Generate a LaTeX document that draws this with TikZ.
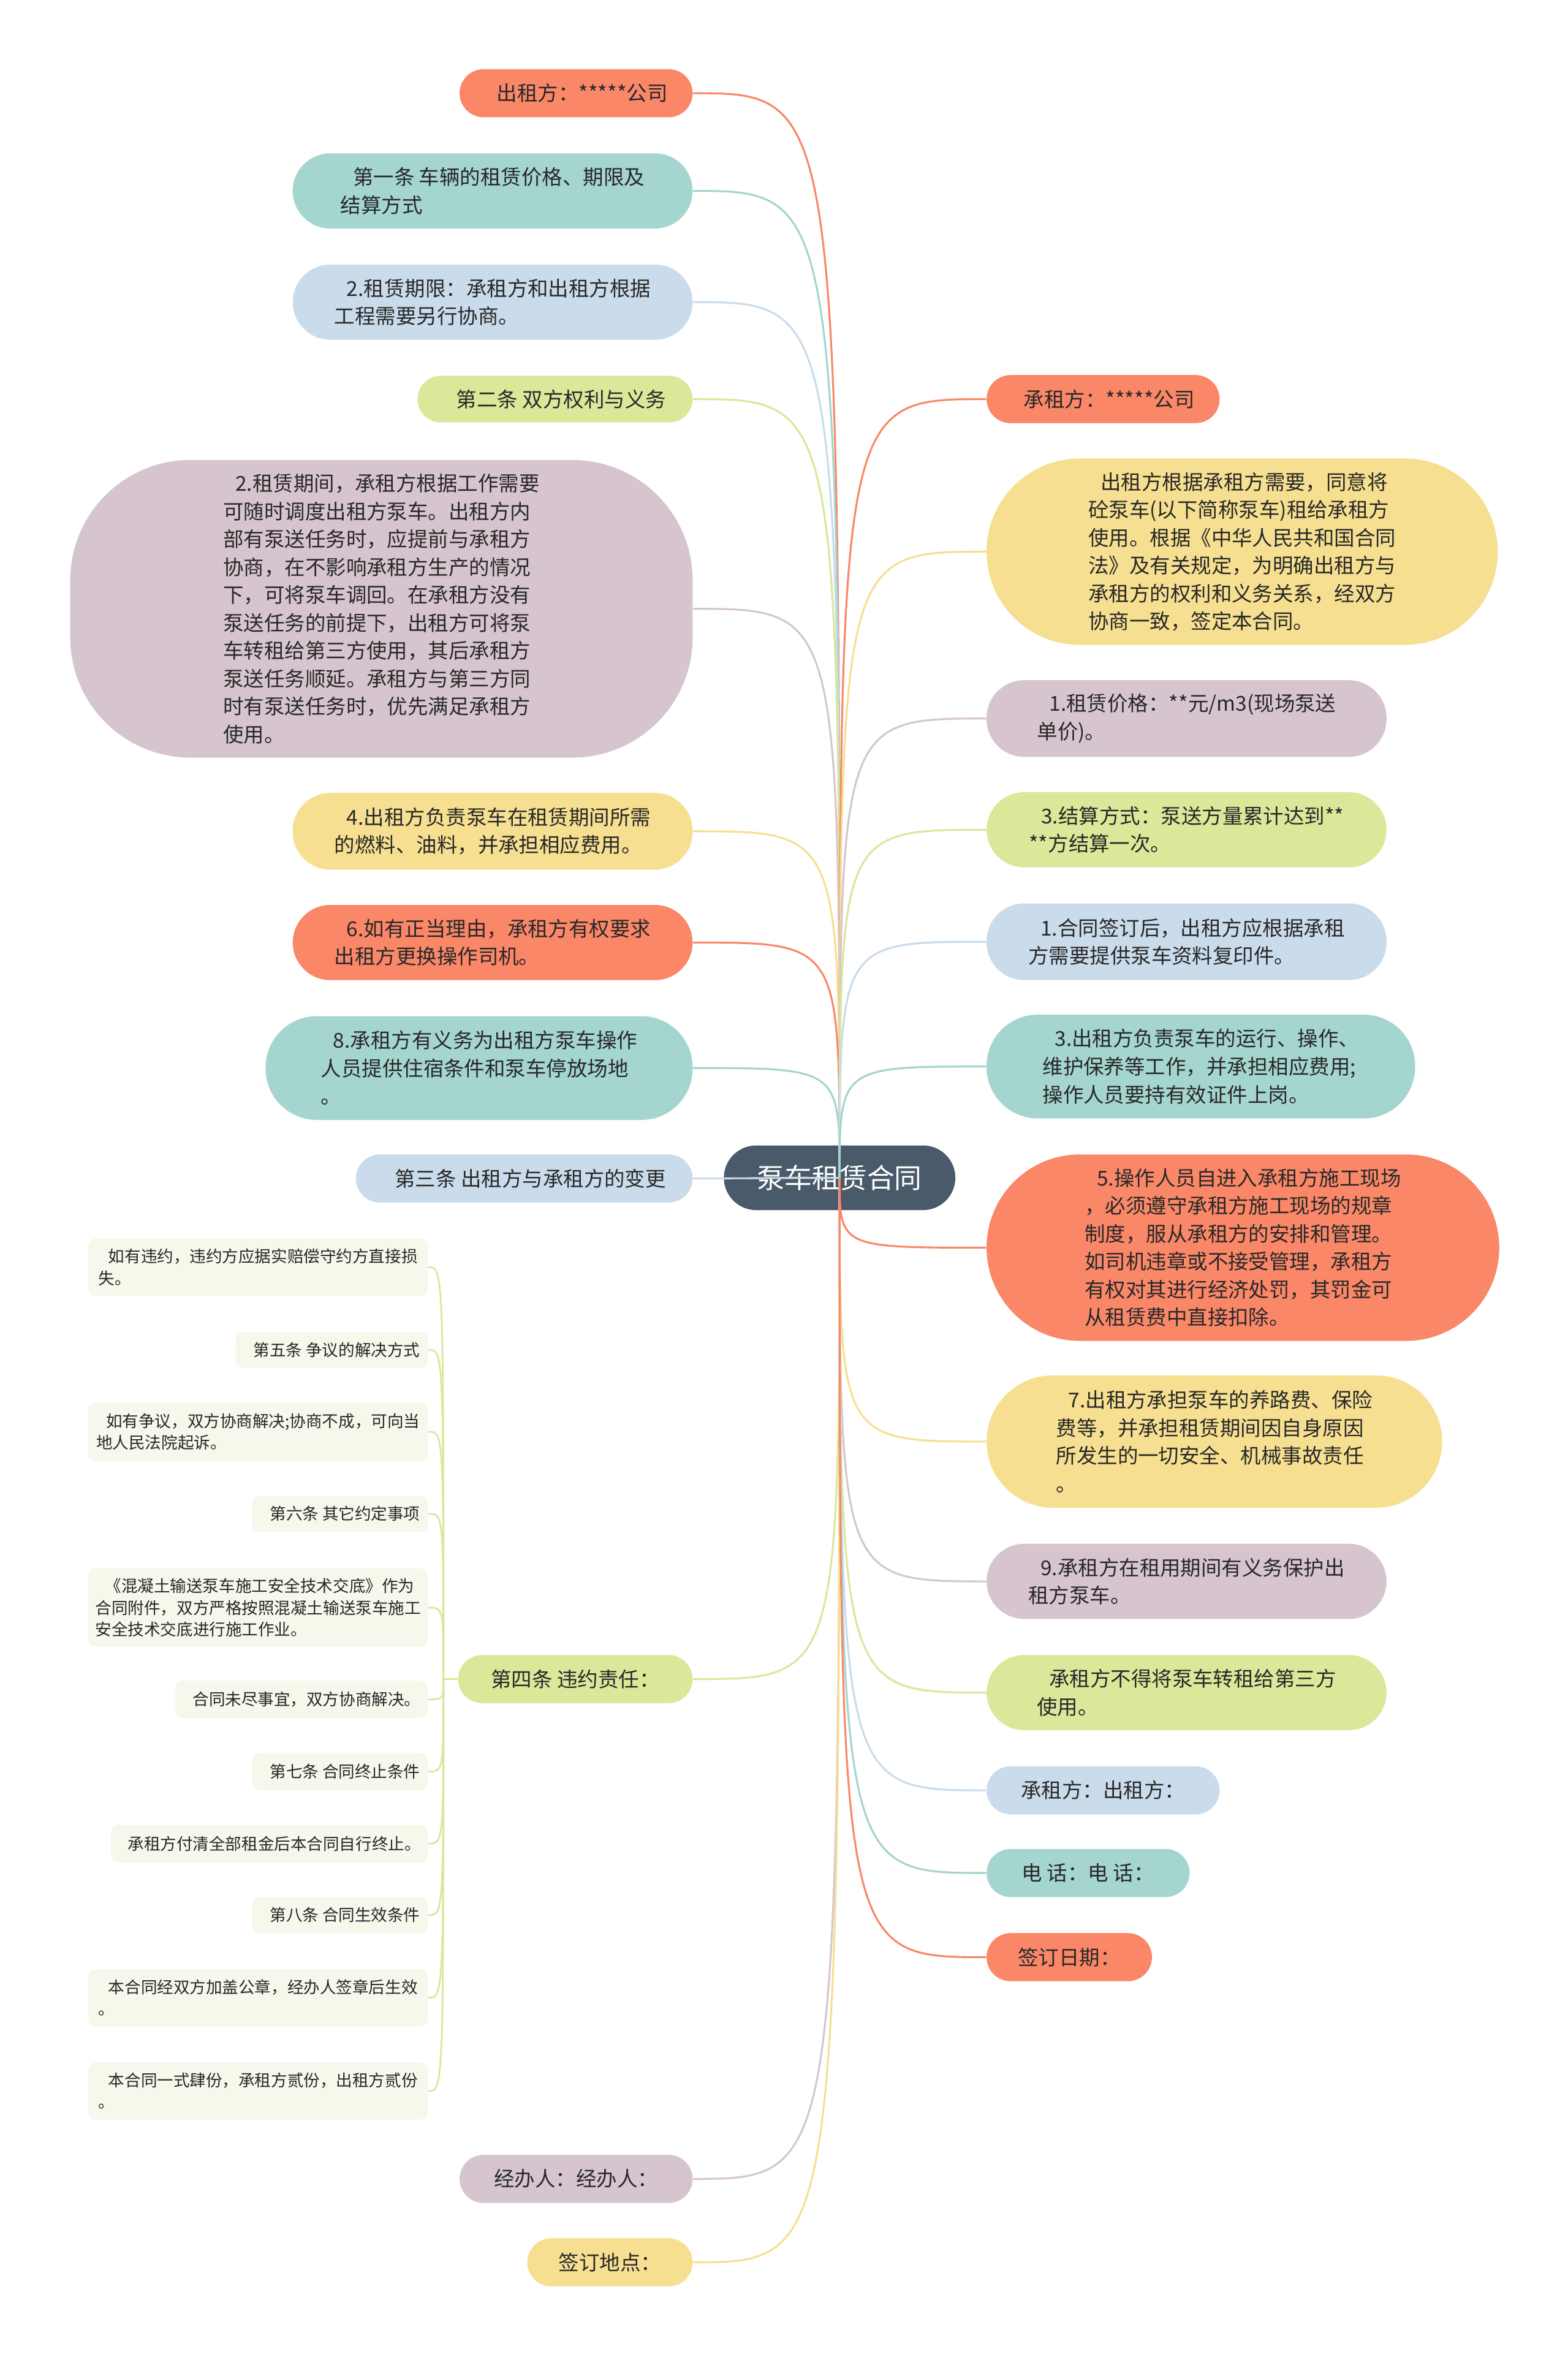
\documentclass[tikz,border=0pt]{standalone}
\usepackage{fontspec}
\setmainfont{Noto Sans CJK SC}
\definecolor{cOrange}{RGB}{249,135,104}
\definecolor{cTeal}{RGB}{164,213,206}
\definecolor{cBlue}{RGB}{202,219,235}
\definecolor{cGreen}{RGB}{217,232,153}
\definecolor{cYellow}{RGB}{246,223,144}
\definecolor{cMauve}{RGB}{214,197,206}
\definecolor{cRoot}{RGB}{74,90,106}
\definecolor{leafbg}{RGB}{245,248,235}
\definecolor{txtgray}{RGB}{40,40,40}
\newcommand{\firstgap}{\hspace*{0.6em}}

\begin{document}
\begin{tikzpicture}[
    x=0.025cm, y=-0.025cm,
    dims/.style n args={3}{minimum width=#1*0.025cm,minimum height=#2*0.025cm,
                           rounded corners=#3*0.025cm},
    lsize/.style 2 args={minimum width=#1*0.025cm,minimum height=#2*0.025cm},
    topic/.style={fill=#1,text=txtgray,align=left,inner sep=2pt,
                  font=\fontsize{9.7}{13.2}\selectfont},
    leaf/.style={fill=leafbg,text=txtgray,align=left,inner sep=2pt,
                 rounded corners=0.125cm,font=\fontsize{7.7}{10.3}\selectfont},
    root/.style={fill=cRoot,text=white,align=center,inner sep=2pt,
                 font=\fontsize{13}{15}\selectfont},
    link/.style={draw=#1,line width=0.9pt},
    sublink/.style={draw=cGreen,line width=0.8pt}
  ]
  \fill[white] (0,0) rectangle (1043,1568);

  \node[root,dims={154}{43}{21.5}] (root) at (558.5,783.5) {泵车租赁合同};

  % left branches
  \node[topic=cOrange,dims={155}{32}{16},anchor=east] (l1) at (461,62) {\firstgap 出租方：*****公司};
  \node[topic=cTeal,dims={266}{50}{25},anchor=east] (l2) at (461,127) {\firstgap 第一条 车辆的租赁价格、期限及\\结算方式};
  \node[topic=cBlue,dims={266}{50}{25},anchor=east] (l3) at (461,201) {\firstgap 2.租赁期限：承租方和出租方根据\\工程需要另行协商。};
  \node[topic=cGreen,dims={183}{31}{15.5},anchor=east] (l4) at (461,265.5) {\firstgap 第二条 双方权利与义务};
  \node[topic=cMauve,dims={414}{198}{80},anchor=east] (l5) at (461,405) {\firstgap 2.租赁期间，承租方根据工作需要\\可随时调度出租方泵车。出租方内\\部有泵送任务时，应提前与承租方\\协商，在不影响承租方生产的情况\\下，可将泵车调回。在承租方没有\\泵送任务的前提下，出租方可将泵\\车转租给第三方使用，其后承租方\\泵送任务顺延。承租方与第三方同\\时有泵送任务时，优先满足承租方\\使用。};
  \node[topic=cYellow,dims={266}{51}{25},anchor=east] (l6) at (461,553) {\firstgap 4.出租方负责泵车在租赁期间所需\\的燃料、油料，并承担相应费用。};
  \node[topic=cOrange,dims={266}{50}{25},anchor=east] (l7) at (461,627) {\firstgap 6.如有正当理由，承租方有权要求\\出租方更换操作司机。};
  \node[topic=cTeal,dims={284}{69}{34},anchor=east] (l8) at (461,710.5) {\firstgap 8.承租方有义务为出租方泵车操作\\人员提供住宿条件和泵车停放场地\\。};
  \node[topic=cBlue,dims={224}{32}{16},anchor=east] (l9) at (461,784) {\firstgap 第三条 出租方与承租方的变更};
  \node[topic=cGreen,dims={156}{32}{16},anchor=east] (l10) at (461,1117) {第四条 违约责任：};
  \node[topic=cMauve,dims={155}{32}{16},anchor=east] (l11) at (461,1449.5) {经办人：经办人：};
  \node[topic=cYellow,dims={110}{32}{16},anchor=east] (l12) at (461,1505) {签订地点：};

  % right branches
  \node[topic=cOrange,dims={155}{32}{16},anchor=west] (r1) at (656,265.5) {\firstgap 承租方：*****公司};
  \node[topic=cYellow,dims={340}{124}{62},anchor=west] (r2) at (656,367) {\firstgap 出租方根据承租方需要，同意将\\砼泵车(以下简称泵车)租给承租方\\使用。根据《中华人民共和国合同\\法》及有关规定，为明确出租方与\\承租方的权利和义务关系，经双方\\协商一致，签定本合同。};
  \node[topic=cMauve,dims={266}{51}{25},anchor=west] (r3) at (656,478) {\firstgap 1.租赁价格：**元/m3(现场泵送\\单价)。};
  \node[topic=cGreen,dims={266}{50}{25},anchor=west] (r4) at (656,552) {\firstgap 3.结算方式：泵送方量累计达到**\\**方结算一次。};
  \node[topic=cBlue,dims={266}{51}{25},anchor=west] (r5) at (656,626.5) {\firstgap 1.合同签订后，出租方应根据承租\\方需要提供泵车资料复印件。};
  \node[topic=cTeal,dims={285}{69}{34},anchor=west] (r6) at (656,709.5) {\firstgap 3.出租方负责泵车的运行、操作、\\维护保养等工作，并承担相应费用;\\操作人员要持有效证件上岗。};
  \node[topic=cOrange,dims={341}{124}{62},anchor=west] (r7) at (656,830) {\firstgap 5.操作人员自进入承租方施工现场\\，必须遵守承租方施工现场的规章\\制度，服从承租方的安排和管理。\\如司机违章或不接受管理，承租方\\有权对其进行经济处罚，其罚金可\\从租赁费中直接扣除。};
  \node[topic=cYellow,dims={303}{88}{44},anchor=west] (r8) at (656,959) {\firstgap 7.出租方承担泵车的养路费、保险\\费等，并承担租赁期间因自身原因\\所发生的一切安全、机械事故责任\\。};
  \node[topic=cMauve,dims={266}{50}{25},anchor=west] (r9) at (656,1052) {\firstgap 9.承租方在租用期间有义务保护出\\租方泵车。};
  \node[topic=cGreen,dims={266}{50}{25},anchor=west] (r10) at (656,1126) {\firstgap 承租方不得将泵车转租给第三方\\使用。};
  \node[topic=cBlue,dims={155}{32}{16},anchor=west] (r11) at (656,1191) {承租方：出租方：};
  \node[topic=cTeal,dims={135}{32}{16},anchor=west] (r12) at (656,1246) {电 话：电 话：};
  \node[topic=cOrange,dims={110}{32}{16},anchor=west] (r13) at (656,1302) {签订日期：};

  % clauses under 第四条
  \coordinate (hub) at (295,1117);
  \node[leaf,lsize={226}{38},anchor=east] (c1) at (285,843) {\firstgap 如有违约，违约方应据实赔偿守约方直接损\\失。};
  \node[leaf,lsize={128}{24},anchor=east] (c2) at (285,898) {\firstgap 第五条 争议的解决方式};
  \node[leaf,lsize={226}{39},anchor=east] (c3) at (285,952.5) {\firstgap 如有争议，双方协商解决;协商不成，可向当\\地人民法院起诉。};
  \node[leaf,lsize={117}{24},anchor=east] (c4) at (285,1007) {\firstgap 第六条 其它约定事项};
  \node[leaf,lsize={226}{52},anchor=east] (c5) at (285,1069.5) {\firstgap《混凝土输送泵车施工安全技术交底》作为\\合同附件，双方严格按照混凝土输送泵车施工\\安全技术交底进行施工作业。};
  \node[leaf,lsize={168}{25},anchor=east] (c6) at (285,1130.5) {\firstgap 合同未尽事宜，双方协商解决。};
  \node[leaf,lsize={117}{25},anchor=east] (c7) at (285,1178.5) {\firstgap 第七条 合同终止条件};
  \node[leaf,lsize={211}{25},anchor=east] (c8) at (285,1226.5) {\firstgap 承租方付清全部租金后本合同自行终止。};
  \node[leaf,lsize={117}{24},anchor=east] (c9) at (285,1274) {\firstgap 第八条 合同生效条件};
  \node[leaf,lsize={226}{38},anchor=east] (c10) at (285,1329) {\firstgap 本合同经双方加盖公章，经办人签章后生效\\。};
  \node[leaf,lsize={226}{38},anchor=east] (c11) at (285,1391) {\firstgap 本合同一式肆份，承租方贰份，出租方贰份\\。};

  \draw[link=cOrange] (root.center) .. controls (root.center |- l1.east) .. (l1.east);
  \draw[link=cTeal] (root.center) .. controls (root.center |- l2.east) .. (l2.east);
  \draw[link=cBlue] (root.center) .. controls (root.center |- l3.east) .. (l3.east);
  \draw[link=cGreen] (root.center) .. controls (root.center |- l4.east) .. (l4.east);
  \draw[link=cMauve] (root.center) .. controls (root.center |- l5.east) .. (l5.east);
  \draw[link=cYellow] (root.center) .. controls (root.center |- l6.east) .. (l6.east);
  \draw[link=cOrange] (root.center) .. controls (root.center |- l7.east) .. (l7.east);
  \draw[link=cTeal] (root.center) .. controls (root.center |- l8.east) .. (l8.east);
  \draw[link=cBlue] (root.center) -- (l9.east);
  \draw[link=cGreen] (root.center) .. controls (root.center |- l10.east) .. (l10.east);
  \draw[link=cMauve] (root.center) .. controls (root.center |- l11.east) .. (l11.east);
  \draw[link=cYellow] (root.center) .. controls (root.center |- l12.east) .. (l12.east);

  \draw[link=cOrange] (root.center) .. controls (root.center |- r1.west) .. (r1.west);
  \draw[link=cYellow] (root.center) .. controls (root.center |- r2.west) .. (r2.west);
  \draw[link=cMauve] (root.center) .. controls (root.center |- r3.west) .. (r3.west);
  \draw[link=cGreen] (root.center) .. controls (root.center |- r4.west) .. (r4.west);
  \draw[link=cBlue] (root.center) .. controls (root.center |- r5.west) .. (r5.west);
  \draw[link=cTeal] (root.center) .. controls (root.center |- r6.west) .. (r6.west);
  \draw[link=cOrange] (root.center) .. controls (root.center |- r7.west) .. (r7.west);
  \draw[link=cYellow] (root.center) .. controls (root.center |- r8.west) .. (r8.west);
  \draw[link=cMauve] (root.center) .. controls (root.center |- r9.west) .. (r9.west);
  \draw[link=cGreen] (root.center) .. controls (root.center |- r10.west) .. (r10.west);
  \draw[link=cBlue] (root.center) .. controls (root.center |- r11.west) .. (r11.west);
  \draw[link=cTeal] (root.center) .. controls (root.center |- r12.west) .. (r12.west);
  \draw[link=cOrange] (root.center) .. controls (root.center |- r13.west) .. (r13.west);

  \draw[sublink] (l10.west) -- (hub) .. controls (hub |- c1.east) .. (c1.east);
  \draw[sublink] (l10.west) -- (hub) .. controls (hub |- c2.east) .. (c2.east);
  \draw[sublink] (l10.west) -- (hub) .. controls (hub |- c3.east) .. (c3.east);
  \draw[sublink] (l10.west) -- (hub) .. controls (hub |- c4.east) .. (c4.east);
  \draw[sublink] (l10.west) -- (hub) .. controls (hub |- c5.east) .. (c5.east);
  \draw[sublink] (l10.west) -- (hub) .. controls (hub |- c6.east) .. (c6.east);
  \draw[sublink] (l10.west) -- (hub) .. controls (hub |- c7.east) .. (c7.east);
  \draw[sublink] (l10.west) -- (hub) .. controls (hub |- c8.east) .. (c8.east);
  \draw[sublink] (l10.west) -- (hub) .. controls (hub |- c9.east) .. (c9.east);
  \draw[sublink] (l10.west) -- (hub) .. controls (hub |- c10.east) .. (c10.east);
  \draw[sublink] (l10.west) -- (hub) .. controls (hub |- c11.east) .. (c11.east);
\end{tikzpicture}
\end{document}
